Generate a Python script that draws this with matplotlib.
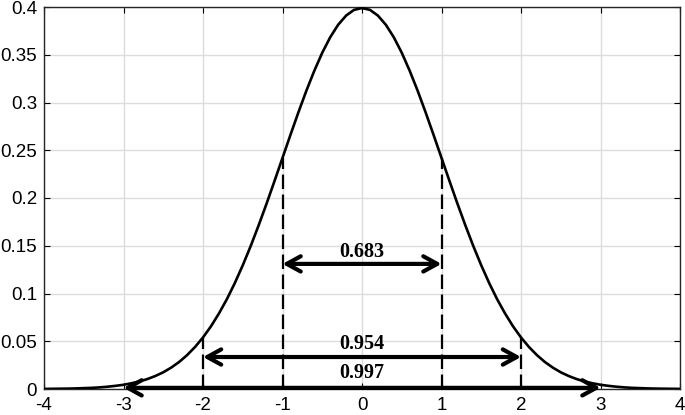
import matplotlib
matplotlib.use("Agg")
import matplotlib.pyplot as plt
import numpy as np

# standard normal density read at 0.1 steps for x >= 0 (curve is symmetric)
x_half = [0.0, 0.1, 0.2, 0.3, 0.4, 0.5, 0.6, 0.7, 0.8, 0.9, 1.0, 1.1, 1.2, 1.3,
          1.4, 1.5, 1.6, 1.7, 1.8, 1.9, 2.0, 2.1, 2.2, 2.3, 2.4, 2.5, 2.6, 2.7,
          2.8, 2.9, 3.0, 3.1, 3.2, 3.3, 3.4, 3.5, 3.6, 3.7, 3.8, 3.9, 4.0]
y_half = [0.3989, 0.3970, 0.3910, 0.3814, 0.3683, 0.3521, 0.3332, 0.3123, 0.2897,
          0.2661, 0.2420, 0.2179, 0.1942, 0.1714, 0.1497, 0.1295, 0.1109, 0.0940,
          0.0790, 0.0656, 0.0540, 0.0440, 0.0355, 0.0283, 0.0224, 0.0175, 0.0136,
          0.0104, 0.0079, 0.0060, 0.0044, 0.0033, 0.0024, 0.0017, 0.0012, 0.0009,
          0.0006, 0.0004, 0.0003, 0.0002, 0.0001]

# dashed markers (x, height)
dash_x = [-2, -1, 1, 2]
dash_h = [0.0540, 0.2420, 0.2420, 0.0540]

# interval arrows: (x start, x end, arrow y, label, label y)
arr_x0 = [-1, -2, -3]
arr_x1 = [1, 2, 3]
arr_y = [0.131, 0.0335, 0.0012]
arr_lab = ["0.683", "0.954", "0.997"]
lab_y = [0.1435, 0.0466, 0.0168]

xticks = [-4, -3, -2, -1, 0, 1, 2, 3, 4]
yticks = [0, 0.05, 0.1, 0.15, 0.2, 0.25, 0.3, 0.35, 0.4]
ytick_labels = ["0", "0.05", "0.1", "0.15", "0.2", "0.25", "0.3", "0.35", "0.4"]

xs = [-v for v in x_half[::-1]] + x_half[1:]
ys = y_half[::-1] + y_half[1:]

fig = plt.figure(figsize=(6.85, 4.15), dpi=100)
ax = fig.add_axes([44 / 685, 1 - 389 / 415, 636 / 685, 382 / 415])

ax.plot(xs, ys, color="black", lw=1.9, zorder=3, solid_joinstyle="round")

for xv, hv in zip(dash_x, dash_h):
    ax.plot([xv, xv], [0, hv], color="black", lw=1.6, ls=(0, (6.5, 2.5)), zorder=3)

for x0, x1, yv, lab, ly in zip(arr_x0, arr_x1, arr_y, arr_lab, lab_y):
    ax.annotate("", xy=(x1, yv), xytext=(x0, yv),
                arrowprops=dict(arrowstyle="<->,head_length=1.0,head_width=0.55",
                                color="black", lw=3.0, shrinkA=0, shrinkB=0,
                                capstyle="round", joinstyle="round"),
                zorder=4)
    ax.text((x0 + x1) / 2, ly, lab, ha="center", va="center",
            fontsize=14.5, fontweight="bold", family="Liberation Serif", zorder=5)

ax.set_xlim(-4, 4)
ax.set_ylim(0, 0.4)
ax.set_xticks(xticks)
ax.set_xticklabels([str(t) for t in xticks])
ax.set_yticks(yticks)
ax.set_yticklabels(ytick_labels)
ax.grid(True, color="#dcdcdc", lw=1.0)
ax.set_axisbelow(True)
ax.tick_params(direction="in", top=True, right=True, length=4, width=0.8,
               labelsize=13.5, colors="black")
ax.tick_params(axis="x", pad=6)
ax.tick_params(axis="y", pad=5)
for lab in ax.get_xticklabels() + ax.get_yticklabels():
    lab.set_family("Liberation Sans")
for s in ax.spines.values():
    s.set_color("#262626")
    s.set_linewidth(1.0)

fig.savefig("out.png", dpi=100)
